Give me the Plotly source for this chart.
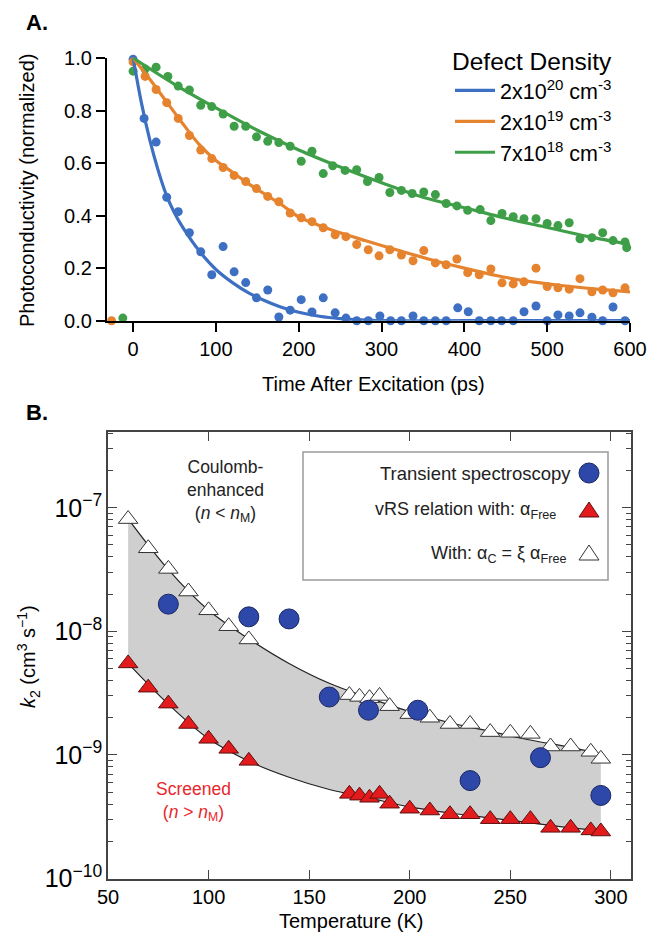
import plotly.graph_objects as go

# The page body has an 8px margin, so the figure is placed at (8, 8) in the window.
OFF = 8
W, H = 660 - OFF, 935 - OFF
FONT = "Liberation Sans, Arial, sans-serif"

# ---------------- Panel A data ----------------
blue_t = [0, 13.3, 27.8, 40.6, 54.5, 68, 81.7, 95, 108.7, 122, 136, 149, 162.6, 176, 189.7, 203, 216,
          229.6, 244, 257, 270, 284, 298, 311, 324, 338, 351, 365, 378, 392, 404.7, 418, 432, 445, 459,
          472, 486.5, 500, 513, 526.6, 539.6, 554, 567, 579.5, 594]
blue_v = [0.995, 0.77, 0.68, 0.47, 0.415, 0.335, 0.262, 0.175, 0.282, 0.186, 0.145, 0.087, 0.117, 0.014,
          0.04, 0.08, 0.033, 0.087, 0.03, 0.01, 0.0, 0.0, 0.018, 0.0, 0.0, 0.018, 0.0, 0.0, 0.0, 0.049,
          0.034, 0.0, 0.0, 0.0, 0.0, 0.034, 0.056, 0.0, 0.022, 0.018, 0.03, 0.013, 0.0, 0.052, 0.0]

orange_t = [-26, 0, 14.5, 27.8, 40.6, 54.5, 68, 81.7, 95, 108.7, 122, 136, 149, 162.6, 176, 189.7, 203, 216,
            229.6, 244, 257, 270, 284, 297, 310, 324, 338, 351, 365, 378, 391, 404, 418, 432, 445.5,
            459, 472, 486.5, 500, 513, 526.6, 539.6, 554, 567, 579.5, 594]
orange_v = [0.0, 0.985, 0.93, 0.88, 0.83, 0.77, 0.705, 0.65, 0.617, 0.583, 0.553, 0.53, 0.503, 0.473, 0.453,
            0.41, 0.392, 0.377, 0.354, 0.327, 0.32, 0.29, 0.27, 0.247, 0.27, 0.25, 0.228, 0.267, 0.22,
            0.213, 0.235, 0.183, 0.175, 0.197, 0.144, 0.14, 0.148, 0.2, 0.13, 0.125, 0.12, 0.16, 0.11,
            0.117, 0.106, 0.125]

green_t = [-12.4, 0, 14.5, 27.8, 42, 54.5, 68, 81.7, 95, 108.7, 122, 136, 149, 162.6, 176, 189.7, 203, 216,
           229.6, 241, 256, 270, 283, 297, 310, 324, 337, 351, 365, 378, 391, 404, 419, 432, 445.5, 459,
           472, 486.5, 500, 513, 526.6, 539.6, 554, 567, 579.5, 594, 596]
green_v = [0.01, 0.95, 0.958, 0.965, 0.93, 0.893, 0.878, 0.82, 0.815, 0.787, 0.74, 0.74, 0.70, 0.683, 0.678,
           0.664, 0.607, 0.645, 0.56, 0.59, 0.572, 0.575, 0.53, 0.545, 0.488, 0.496, 0.484, 0.49, 0.48,
           0.446, 0.437, 0.42, 0.423, 0.381, 0.408, 0.396, 0.388, 0.388, 0.37, 0.362, 0.373, 0.312,
           0.316, 0.335, 0.305, 0.3, 0.278]

blue_fit_t = [0, 10, 20, 30, 40, 50, 60, 80, 100, 120, 140, 160, 180, 200, 225, 250, 275, 300, 400, 500, 600]
blue_fit_v = [1.0, 0.83, 0.69, 0.575, 0.48, 0.41, 0.355, 0.265, 0.195, 0.145, 0.105, 0.075, 0.05, 0.032,
              0.017, 0.008, 0.003, 0.0, 0.0, 0.0, 0.0]
orange_fit_t = [0, 20, 40, 60, 80, 100, 120, 140, 160, 180, 200, 240, 280, 320, 360, 400, 440, 480, 520, 560, 600]
orange_fit_v = [1.0, 0.92, 0.835, 0.75, 0.67, 0.61, 0.565, 0.52, 0.48, 0.44, 0.395, 0.345, 0.305, 0.268,
                0.232, 0.2, 0.171, 0.149, 0.133, 0.12, 0.11]
green_fit_t = [0, 50, 100, 150, 200, 250, 300, 350, 400, 450, 500, 550, 600]
green_fit_v = [1.0, 0.90, 0.81, 0.725, 0.65, 0.585, 0.525, 0.47, 0.43, 0.39, 0.355, 0.32, 0.29]

series_names = ["2x10<sup>20</sup> cm<sup>-3</sup>", "2x10<sup>19</sup> cm<sup>-3</sup>",
                "7x10<sup>18</sup> cm<sup>-3</sup>"]
a_xticks = [0, 100, 200, 300, 400, 500, 600]
a_yticks = [0.0, 0.2, 0.4, 0.6, 0.8, 1.0]

# ---------------- Panel B data ----------------
tri_T = [60, 70, 80, 90, 100, 110, 120, 170, 175, 180, 185, 190, 200, 210, 220, 230, 240, 250, 260,
         270, 280, 290, 295]
white_k = [8.1e-8, 4.7e-8, 3.2e-8, 2.1e-8, 1.48e-8, 1.1e-8, 8.6e-9, 3.05e-9, 2.95e-9, 2.88e-9, 3.0e-9,
           2.48e-9, 2.14e-9, 2.0e-9, 1.78e-9, 1.78e-9, 1.53e-9, 1.51e-9, 1.48e-9, 1.17e-9, 1.17e-9,
           1.06e-9, 9.3e-10]
red_k = [5.5e-9, 3.5e-9, 2.6e-9, 1.78e-9, 1.35e-9, 1.12e-9, 8.95e-10, 4.84e-10, 4.68e-10, 4.5e-10,
         4.84e-10, 4.03e-10, 3.67e-10, 3.55e-10, 3.31e-10, 3.31e-10, 3.02e-10, 3.02e-10, 3.02e-10,
         2.57e-10, 2.57e-10, 2.45e-10, 2.4e-10]
circ_T = [80, 120, 140, 160, 179.5, 204, 230, 265, 295]
circ_k = [1.66e-8, 1.31e-8, 1.26e-8, 2.94e-9, 2.3e-9, 2.3e-9, 6.2e-10, 9.5e-10, 4.7e-10]

curve_T = [60, 80, 100, 120, 140, 160, 180, 200, 220, 240, 260, 280, 295]
upper_k = [8.13e-8, 3.16e-8, 1.48e-8, 8.7e-9, 5.5e-9, 3.8e-9, 2.88e-9, 2.24e-9, 1.82e-9, 1.55e-9,
           1.32e-9, 1.15e-9, 1.02e-9]
lower_k = [5.5e-9, 2.57e-9, 1.35e-9, 8.9e-10, 6.6e-10, 5.25e-10, 4.47e-10, 3.8e-10, 3.39e-10, 3.09e-10,
           2.82e-10, 2.57e-10, 2.45e-10]
b_xticks = [50, 100, 150, 200, 250, 300]

# ---------------- styling ----------------
BLUE, ORANGE, GREEN = "#3d6fc2", "#e6832f", "#3f9f48"


def px(x):
    return (x - OFF) / W


def py(y):
    return 1 - (y - OFF) / H


fig = go.Figure()

for t, v, c in [(blue_t, blue_v, BLUE), (orange_t, orange_v, ORANGE), (green_t, green_v, GREEN)]:
    fig.add_trace(go.Scatter(x=t, y=v, mode="markers", marker=dict(color=c, size=9),
                             showlegend=False, cliponaxis=False, xaxis="x", yaxis="y"))
for t, v, c, n in [(blue_fit_t, blue_fit_v, BLUE, series_names[0]),
                   (orange_fit_t, orange_fit_v, ORANGE, series_names[1]),
                   (green_fit_t, green_fit_v, GREEN, series_names[2])]:
    fig.add_trace(go.Scatter(x=t, y=v, mode="lines", line=dict(color=c, width=3.2, shape="spline", smoothing=0.8),
                             name=n, cliponaxis=False, xaxis="x", yaxis="y"))

# Panel B
fig.add_trace(go.Scatter(x=curve_T, y=lower_k, mode="lines", line=dict(color="#222", width=1.2, shape="spline"),
                         showlegend=False, xaxis="x2", yaxis="y2"))
fig.add_trace(go.Scatter(x=curve_T, y=upper_k, mode="lines", line=dict(color="#222", width=1.2, shape="spline"),
                         fill="tonexty", fillcolor="#cfcfcf", showlegend=False, xaxis="x2", yaxis="y2"))
fig.add_trace(go.Scatter(x=tri_T, y=white_k, mode="markers",
                         marker=dict(symbol="triangle-up", size=17, color="white", line=dict(color="#333", width=1)),
                         showlegend=False, xaxis="x2", yaxis="y2"))
fig.add_trace(go.Scatter(x=tri_T, y=red_k, mode="markers",
                         marker=dict(symbol="triangle-up", size=17, color="#e31b1d", line=dict(color="#5a1010", width=1)),
                         showlegend=False, xaxis="x2", yaxis="y2"))
fig.add_trace(go.Scatter(x=circ_T, y=circ_k, mode="markers",
                         marker=dict(symbol="circle", size=20, color="#2d48a8", line=dict(color="#1a2663", width=1)),
                         showlegend=False, xaxis="x2", yaxis="y2"))

axA = dict(showgrid=False, zeroline=False, showline=True, linecolor="black", linewidth=2.2,
           ticks="outside", ticklen=9, tickwidth=2.2, tickcolor="black", automargin=False,
           tickfont=dict(size=20, color="black", family=FONT))
axB = dict(showgrid=False, zeroline=False, showline=True, linecolor="#444", linewidth=1.6, mirror="ticks",
           ticks="inside", ticklen=9, tickwidth=1.4, tickcolor="#444", automargin=False,
           tickfont=dict(size=20, color="black", family=FONT))

fig.update_layout(
    width=W, height=H, margin=dict(l=0, r=0, t=0, b=0, autoexpand=False),
    paper_bgcolor="white", plot_bgcolor="white",
    font=dict(family=FONT, color="black"),
    xaxis=dict(axA, domain=[px(107), px(630)], range=[-31.5, 600], tickvals=a_xticks, anchor="y"),
    yaxis=dict(axA, domain=[py(320.7), py(58)], range=[0, 1.0], tickvals=a_yticks, tickformat=".1f", anchor="x"),
    xaxis2=dict(axB, domain=[px(108), px(631)], range=[50, 310], tickvals=b_xticks, anchor="y2"),
    yaxis2=dict(axB, type="log", domain=[py(878.5), py(432)], range=[-10, -6.387], dtick=1,
                exponentformat="power", showexponent="all", anchor="x2",
                minor=dict(ticks="inside", ticklen=5, tickwidth=1.2, tickcolor="#444", showgrid=False)),
    legend=dict(x=px(450), y=py(38), xanchor="left", yanchor="top", bgcolor="rgba(0,0,0,0)",
                traceorder="normal",
                title=dict(text="Defect Density", font=dict(size=24.5)),
                font=dict(size=21.5), tracegroupgap=0, itemwidth=40),
)

ann = [
    dict(text="<b>A.</b>", x=px(24), y=py(22), xanchor="left", yanchor="middle", font=dict(size=22)),
    dict(text="<b>B.</b>", x=px(24), y=py(412), xanchor="left", yanchor="middle", font=dict(size=22)),
    dict(text="Photoconductivity (normalized)", x=px(27), y=py(191), textangle=-90,
         xanchor="center", yanchor="middle", font=dict(size=20)),
    dict(text="Time After Excitation (ps)", x=px(373), y=py(384), xanchor="center", yanchor="middle",
         font=dict(size=20)),
    dict(text="<i>k</i><sub>2</sub> (cm<sup>3</sup> s<sup>−1</sup>)", x=px(28), y=py(657), textangle=-90,
         xanchor="center", yanchor="middle", font=dict(size=20)),
    dict(text="Temperature (K)", x=px(352), y=py(921), xanchor="center", yanchor="middle", font=dict(size=20)),
    dict(text="Coulomb-<br>enhanced<br>(<i>n</i> &lt; <i>n</i><sub>M</sub>)", x=px(225), y=py(491),
         xanchor="center", yanchor="middle", font=dict(size=17.5, color="#222")),
    dict(text="Screened<br>(<i>n</i> &gt; <i>n</i><sub>M</sub>)", x=px(193), y=py(801),
         xanchor="center", yanchor="middle", font=dict(size=17.5, color="#e8282c")),
    dict(text="Transient spectroscopy", x=px(573), y=py(473), xanchor="right", yanchor="middle",
         font=dict(size=18.5, color="#222")),
    dict(text="vRS relation with: α<sub>Free</sub>", x=px(558), y=py(511), xanchor="right", yanchor="middle",
         font=dict(size=18, color="#222")),
    dict(text="With: α<sub>C</sub> = ξ α<sub>Free</sub>", x=px(568), y=py(554), xanchor="right",
         yanchor="middle", font=dict(size=18, color="#222")),
]
for a in ann:
    a.update(xref="paper", yref="paper", showarrow=False)
fig.update_layout(annotations=ann)


def tri_path(cx, cy, w=20, h=15):
    return (f"M{px(cx - w / 2)},{py(cy + h / 3)} L{px(cx + w / 2)},{py(cy + h / 3)} "
            f"L{px(cx)},{py(cy - 2 * h / 3)} Z")


shapes = [
    dict(type="rect", x0=px(303), x1=px(608), y0=py(580), y1=py(452),
         line=dict(color="#9a9a9a", width=1.5), fillcolor="white"),
    dict(type="circle", x0=px(579), x1=px(599), y0=py(483), y1=py(463),
         fillcolor="#2d48a8", line=dict(color="#1a2663", width=1)),
    dict(type="path", path=tri_path(589, 512), fillcolor="#e31b1d", line=dict(color="#5a1010", width=1)),
    dict(type="path", path=tri_path(589, 555), fillcolor="white", line=dict(color="#333", width=1)),
]
for s in shapes:
    s.update(xref="paper", yref="paper", layer="above")
fig.update_layout(shapes=shapes)

fig.write_html("out.html")
